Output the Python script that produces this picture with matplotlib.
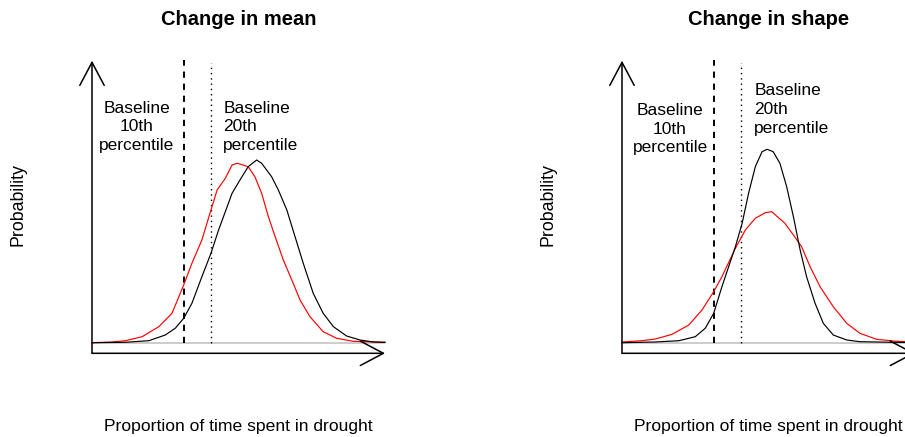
import numpy as np
import matplotlib
matplotlib.use('Agg')
import matplotlib.pyplot as plt

plt.rcParams['font.family'] = ['Liberation Sans', 'DejaVu Sans']

# values: x = proportion of time, y = relative probability
mean_x_base = [0, .113, .194, .250, .284, .313, .341, .375, .406, .432, .455, .478, .505, .533,
               .562, .579, .613, .636, .665, .693, .721, .755, .789, .824, .869, .915, .960, 1.0]
mean_y_base = [0, .004, .02, .077, .144, .244, .394, .66, .894, 1.127, 1.31, 1.494, 1.627, 1.76,
               1.827, 1.794, 1.66, 1.527, 1.327, 1.06, .794, .494, .294, .16, .067, .027, .007, .004]
mean_x_new = [0, .068, .114, .171, .228, .273, .313, .341, .375, .406, .427, .455, .478, .495,
              .505, .533, .556, .579, .602, .625, .653, .682, .710, .744, .789, .835, .892, 1.0]
mean_y_new = [0, .007, .02, .06, .16, .294, .577, .794, 1.027, 1.327, 1.527, 1.644, 1.777, 1.794,
              1.787, 1.76, 1.66, 1.494, 1.26, 1.06, .827, .627, .427, .26, .11, .044, .014, .004]

shape_x_base = [0, .114, .194, .250, .284, .313, .341, .364, .387, .410, .432, .455, .478, .495,
                .516, .539, .562, .585, .608, .630, .659, .687, .721, .767, .812, .926, 1.0]
shape_y_base = [0, .007, .02, .06, .144, .294, .56, .76, .96, 1.194, 1.494, 1.76, 1.91, 1.934,
                1.91, 1.794, 1.56, 1.26, .927, .66, .394, .194, .077, .027, .01, .004, .002]
shape_x_new = [0, .068, .114, .171, .228, .273, .313, .341, .387, .421, .455, .489, .511, .556,
               .585, .613, .642, .676, .721, .767, .812, .869, .926, .966, 1.0]
shape_y_new = [.007, .02, .037, .084, .177, .327, .51, .66, .944, 1.127, 1.244, 1.3, 1.31, 1.194,
               1.077, .96, .76, .56, .36, .194, .094, .034, .017, .01, .005]

p10 = 0.314
p20 = 0.406
titles = ['Change in mean', 'Change in shape']
xlabel = 'Proportion of time spent in drought'
ylabel = 'Probability'

fig = plt.figure(figsize=(9.05, 4.37), dpi=100)

W, H = 905, 437


def panel(left_px, title, xb, yb, xn, yn, lab10_pos, lab20_pos):
    ax = fig.add_axes([left_px / W, (H - 353.7) / H, 293 / W, 294 / H])
    ax.set_xlim(0, 1)
    ax.set_ylim(-0.11, 2.83)
    ax.axis('off')

    ax.axhline(0, color='#c4c4c4', lw=1.2, zorder=1)
    ax.plot(xn, yn, color='red', lw=0.85, zorder=3, clip_on=False)
    ax.plot(xb, yb, color='black', lw=0.85, zorder=4, clip_on=False)

    ax.vlines(p10, 0, 2.83, colors='black', lw=1.4, linestyles=(0, (3.2, 3.0)), zorder=2)
    ax.vlines(p20, 0, 2.80, colors='black', lw=1.0, linestyles=(0, (1.0, 2.8)), zorder=2)

    arrow = dict(arrowstyle='->,head_length=16.6,head_width=8.8', mutation_scale=1,
                 color='black', lw=1.1, shrinkA=0, shrinkB=0)
    ax.annotate('', xy=(0, 2.82), xytext=(0, -0.106), arrowprops=arrow, annotation_clip=False)
    ax.annotate('', xy=(1.0, -0.106), xytext=(0, -0.106), arrowprops=arrow, annotation_clip=False)

    ax.text(lab10_pos[0], lab10_pos[1], 'Baseline\n10th\npercentile', ha='center', va='top',
            multialignment='center', fontsize=12.5, linespacing=1.3)
    ax.text(lab20_pos[0], lab20_pos[1], 'Baseline\n20th\npercentile', ha='left', va='top',
            multialignment='left', fontsize=12.5, linespacing=1.3)

    ax.text(0.5, 3.177, title, ha='center', va='baseline', fontsize=14.5, fontweight='bold')
    ax.text(-0.253, 1.377, ylabel, ha='center', va='center', rotation=90, fontsize=12.8)
    ax.text(0.5, -0.88, xlabel, ha='center', va='baseline', fontsize=12.6)
    return ax


panel(92, titles[0], mean_x_base, mean_y_base, mean_x_new, mean_y_new,
      (0.1526, 2.42), (0.448, 2.42))
panel(622, titles[1], shape_x_base, shape_y_base, shape_x_new, shape_y_new,
      (0.164, 2.394), (0.4516, 2.594))

fig.savefig('out.png', dpi=100)
